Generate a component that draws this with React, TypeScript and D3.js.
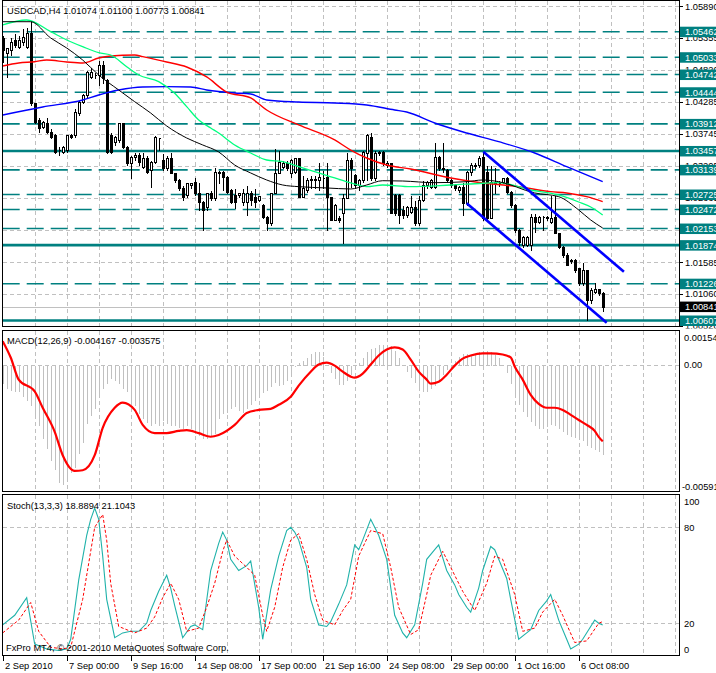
import React from "react";
import * as d3 from "d3";

const W = 716;
const H = 673;
const FONT = "'Liberation Sans', Arial, sans-serif";
const FS = 9.3;

// ---- price data (H4 bars, 2 Sep 2010 08:00 .. 7 Oct 08:00) ----
const opens = [1.0536,1.051,1.0516,1.0532,1.0521,1.0529,1.0521,1.0544,1.0426,1.0398,1.0386,1.0393,1.0378,1.0373,1.0347,1.0344,1.0347,1.0373,1.0373,1.041,1.0428,1.044,1.047,1.0473,1.0473,1.049,1.0465,1.0373,1.0361,1.0364,1.0393,1.0352,1.0326,1.0336,1.0339,1.0319,1.0334,1.0314,1.0327,1.0368,1.0331,1.0317,1.0334,1.0309,1.0297,1.0284,1.0272,1.0289,1.0294,1.0275,1.026,1.0252,1.0275,1.0267,1.031,1.031,1.0302,1.028,1.0272,1.0272,1.026,1.026,1.0275,1.0268,1.0263,1.0255,1.0235,1.0225,1.0275,1.0309,1.0319,1.0326,1.0309,1.031,1.0334,1.0268,1.028,1.0297,1.0298,1.0297,1.03,1.0302,1.0268,1.023,1.0233,1.0242,1.0267,1.0331,1.0305,1.0289,1.0297,1.0342,1.0369,1.03,1.0342,1.0344,1.0322,1.0326,1.0272,1.0272,1.0247,1.0238,1.0243,1.0252,1.0225,1.0263,1.0289,1.0285,1.0285,1.0336,1.0317,1.0314,1.0297,1.0289,1.028,1.0285,1.0258,1.031,1.0322,1.0322,1.0336,1.031,1.0233,1.0294,1.0292,1.0294,1.03,1.0277,1.0255,1.0213,1.0188,1.0188,1.0188,1.0235,1.0226,1.0235,1.0233,1.0226,1.0235,1.0208,1.0184,1.0171,1.0162,1.0162,1.0149,1.0124,1.0146,1.0095,1.0109,1.0114,1.01074];
const highs = [1.0541,1.0521,1.0537,1.0544,1.0541,1.0552,1.0554,1.0566,1.0428,1.0403,1.0398,1.0403,1.0384,1.0376,1.0354,1.0356,1.0374,1.0376,1.0418,1.0431,1.0443,1.0482,1.0487,1.0479,1.0499,1.0499,1.0468,1.0378,1.0373,1.0394,1.0393,1.0356,1.0339,1.0344,1.0344,1.0344,1.0339,1.0331,1.0373,1.0369,1.0342,1.0339,1.0344,1.031,1.03,1.0289,1.0294,1.0294,1.0302,1.0294,1.0263,1.0277,1.028,1.0319,1.0314,1.0314,1.0305,1.0284,1.0284,1.0277,1.0284,1.0289,1.028,1.0284,1.0272,1.0258,1.0238,1.0277,1.0351,1.0347,1.0331,1.0331,1.0334,1.0336,1.0336,1.0305,1.0302,1.0305,1.0305,1.0327,1.0314,1.0327,1.0268,1.0258,1.0238,1.0275,1.0344,1.0336,1.0309,1.03,1.0347,1.0376,1.0378,1.0347,1.0347,1.0347,1.0331,1.0327,1.0275,1.0275,1.0255,1.0255,1.0272,1.0263,1.0272,1.0297,1.0297,1.03,1.0361,1.0339,1.0361,1.0317,1.03,1.0292,1.0289,1.0294,1.0314,1.0327,1.0327,1.0339,1.0344,1.0322,1.0322,1.0319,1.0297,1.0302,1.0304,1.028,1.0258,1.0216,1.0205,1.0205,1.0242,1.0242,1.0238,1.0238,1.0238,1.0272,1.0272,1.021,1.0188,1.0176,1.0166,1.0166,1.0151,1.0159,1.0146,1.0117,1.0126,1.0115,1.011];
const lows = [1.0495,1.047,1.0507,1.0521,1.0519,1.0524,1.0519,1.0423,1.0393,1.0378,1.0384,1.0376,1.0368,1.0342,1.0339,1.0342,1.0344,1.0368,1.0369,1.0406,1.0426,1.0436,1.0468,1.0468,1.0457,1.046,1.0342,1.0342,1.0356,1.0361,1.0351,1.0322,1.03,1.0331,1.0322,1.0317,1.0309,1.0285,1.0326,1.0347,1.0314,1.0314,1.0309,1.0294,1.028,1.0263,1.0268,1.0284,1.0272,1.0247,1.0213,1.0247,1.0263,1.0263,1.0292,1.028,1.0275,1.0258,1.025,1.0268,1.0255,1.0238,1.0255,1.0252,1.0262,1.0233,1.0213,1.0221,1.0275,1.0309,1.0317,1.0314,1.0302,1.0309,1.0268,1.0268,1.0277,1.0284,1.0284,1.028,1.0284,1.0213,1.023,1.023,1.0226,1.0191,1.0267,1.0285,1.0284,1.028,1.0294,1.0297,1.0297,1.0297,1.0339,1.0322,1.0319,1.0242,1.0238,1.0225,1.0233,1.0235,1.0242,1.0221,1.0221,1.0262,1.0284,1.0284,1.0284,1.0314,1.031,1.0294,1.0285,1.028,1.0277,1.0238,1.0255,1.0305,1.0317,1.0319,1.023,1.023,1.0233,1.0275,1.0287,1.0292,1.0275,1.0252,1.021,1.0188,1.0184,1.0186,1.0179,1.021,1.0225,1.0213,1.023,1.0225,1.0208,1.0183,1.0168,1.0154,1.0157,1.0142,1.012,1.012,1.0062,1.009,1.0107,1.0104,1.00773];
const closes = [1.0516,1.0519,1.0529,1.0524,1.0532,1.0537,1.0544,1.0426,1.0394,1.0384,1.0394,1.0378,1.0369,1.0344,1.0348,1.0352,1.0373,1.0369,1.0411,1.0428,1.044,1.0479,1.0479,1.0474,1.049,1.0468,1.0344,1.0344,1.0369,1.0393,1.0352,1.0326,1.0336,1.0339,1.0327,1.0334,1.031,1.0327,1.0369,1.0367,1.0317,1.0334,1.0309,1.0297,1.0284,1.0268,1.0292,1.0292,1.0275,1.026,1.0247,1.0275,1.0267,1.031,1.0309,1.0302,1.0277,1.026,1.026,1.0275,1.0275,1.0275,1.0263,1.026,1.027,1.0235,1.0225,1.0275,1.0309,1.0327,1.0326,1.0317,1.0331,1.0334,1.0268,1.0284,1.0297,1.0298,1.0297,1.0302,1.03,1.0268,1.023,1.0255,1.023,1.0267,1.0331,1.0317,1.0289,1.0297,1.0344,1.0373,1.03,1.0342,1.0344,1.0326,1.0326,1.0242,1.0242,1.0238,1.0238,1.0252,1.0252,1.0225,1.0263,1.0289,1.0294,1.0297,1.0336,1.0317,1.0316,1.0297,1.0289,1.0284,1.0285,1.0258,1.031,1.0322,1.0321,1.0334,1.0233,1.0233,1.0294,1.0292,1.0292,1.03,1.0277,1.0255,1.0213,1.0193,1.0201,1.0201,1.0235,1.0226,1.0235,1.0234,1.0235,1.0233,1.0208,1.0184,1.0171,1.0154,1.0161,1.0146,1.0124,1.0146,1.0095,1.0112,1.0114,1.0107,1.00841];

// moving averages: [bar, price]
const maBlack = [[0,1.0563],[7,1.0563],[12,1.05356],[16,1.05188],[20,1.04986],[24,1.04734],[29,1.04482],[33,1.04285],[37,1.04095],[41,1.03877],[46,1.03675],[50,1.03558],[54,1.0344],[58,1.03221],[62,1.03087],[66,1.02969],[70,1.02885],[74,1.02857],[81,1.02835],[87,1.02818],[91,1.02885],[95,1.02957],[100,1.02952],[108,1.02924],[116,1.02941],[120,1.02969],[124,1.02941],[133,1.02751],[139,1.02689],[144,1.02465],[147,1.02297],[150,1.02162]];
const maGreen = [[0,1.05575],[6,1.05659],[12,1.05462],[16,1.05323],[20,1.0521],[24,1.05109],[27,1.0507],[31,1.04874],[34,1.04734],[39,1.04622],[43,1.04427],[46,1.04202],[49,1.03978],[52,1.03843],[54,1.03759],[58,1.03558],[62,1.03423],[66,1.03305],[70,1.03277],[74,1.03193],[79,1.03087],[83,1.03003],[87,1.02919],[91,1.02857],[95,1.02885],[102,1.02857],[112,1.02885],[120,1.02914],[124,1.02924],[132,1.02801],[139,1.02717],[144,1.02599],[147,1.02515],[150,1.02381]];
const maRed = [[0,1.04886],[4,1.04936],[8,1.04958],[11,1.04986],[16,1.04953],[20,1.04936],[24,1.0502],[27,1.05054],[33,1.0507],[35,1.05042],[41,1.04953],[46,1.04869],[51,1.04701],[56,1.04448],[62,1.04348],[66,1.04146],[74,1.03894],[83,1.03642],[87,1.03473],[91,1.03339],[96,1.03221],[102,1.03154],[112,1.03003],[120,1.02919],[129,1.02857],[137,1.02773],[141,1.02751],[146,1.02689],[150,1.02604]];
const maBlue = [[0,1.04062],[10,1.04196],[20,1.04314],[24,1.04398],[29,1.04482],[35,1.04533],[41,1.04538],[47,1.04533],[51,1.04482],[58,1.04432],[62,1.04415],[66,1.04314],[74,1.0428],[83,1.04264],[91,1.0423],[98,1.04146],[101,1.04112],[108,1.03927],[116,1.03759],[124,1.03613],[133,1.03423],[141,1.03193],[150,1.02941]];

// trend channel (bar, price)
const channelUpper = [[120.15, 1.03445], [155.3, 1.01426]];
const channelLower = [[116, 1.02577], [151, 1.0057]];

// horizontal levels
const dashedLevels = [1.05462, 1.05033, 1.04742, 1.04444, 1.03912, 1.03139, 1.02725, 1.02472, 1.02153, 1.01226];
const solidLevels = [1.03457, 1.01874, 1.00607];
const bidPrice = 1.00841;
const priceTicks = [1.0589, 1.05355, 1.0482, 1.04285, 1.03745, 1.03205, 1.02665, 1.02125, 1.01585, 1.0106, 1.0052];
const priceTickLabels = ["1.05890", "1.05355", "1.04820", "1.04285", "1.03745", "1.03205", "1.02665", "1.02125", "1.01585", "1.01060", "1.00520"];

// MACD
const macdHist = [-0.00086,-0.00108,-0.00117,-0.00125,-0.00125,-0.00148,-0.00164,-0.00187,-0.00242,-0.00281,
-0.00343,-0.0039,-0.00445,-0.00484,-0.00547,-0.00554,-0.00531,-0.005,-0.00477,-0.00414,
-0.00359,-0.00273,-0.00234,-0.00203,-0.00148,-0.00109,-0.00086,-0.00062,-0.0007,-0.00086,
-0.00109,-0.00125,-0.00164,-0.00187,-0.00226,-0.0025,-0.00266,-0.00281,-0.00273,-0.00281,
-0.00258,-0.00273,-0.00281,-0.00281,-0.00289,-0.00297,-0.00281,-0.00297,-0.0032,-0.00328,
-0.00343,-0.00343,-0.00328,-0.0032,-0.0025,-0.00226,-0.00219,-0.00203,-0.00195,-0.00211,
-0.00219,-0.00203,-0.00183,-0.00164,-0.00145,-0.00127,-0.00117,-0.00098,-0.0008,-0.00094,
-0.00089,-0.0007,-0.00042,-0.00005,0.00014,0.00023,0.00033,0.00052,0.00061,0.00061,
0.00042,0.00005,-0.00033,-0.00061,-0.00089,-0.00089,-0.0007,-0.00042,-0.00014,0.00014,
0.00037,0.00061,0.00075,0.00084,0.00094,0.00098,0.00098,0.00089,0.00066,0.00037,
0,-0.00028,-0.00056,-0.0008,-0.00103,-0.00122,-0.00122,-0.00108,-0.00094,-0.00066,
-0.00042,-0.00019,0,0.00019,0.00042,0.00056,0.00056,0.00047,0.00047,0.00061,
0.0007,0.00066,0.00061,0.00047,0.00033,0.00005,-0.00033,-0.00084,-0.00141,-0.00183,
-0.00216,-0.00239,-0.00262,-0.00281,-0.00295,-0.00295,-0.00286,-0.00276,-0.00281,-0.00295,
-0.00309,-0.00323,-0.00333,-0.00337,-0.00342,-0.00351,-0.00375,-0.00384,-0.00394,-0.00403,
-0.004167];
const macdSignal = [[0,0.00109],[2,0.00033],[4,-0.0007],[8,-0.00125],[10,-0.00201],[13,-0.00313],[15,-0.00422],[18,-0.00495],[20,-0.00492],[23,-0.00422],[25,-0.00295],[28,-0.00201],[30,-0.00177],[33,-0.00211],[35,-0.00281],[38,-0.00319],[41,-0.00319],[44,-0.00309],[46,-0.00305],[49,-0.00319],[52,-0.00336],[54,-0.00328],[58,-0.00281],[61,-0.00225],[64,-0.00211],[67,-0.00206],[69,-0.00187],[72,-0.0015],[74,-0.00098],[77,-0.00033],[79,0],[81,0.00009],[83,-0.00005],[85,-0.00033],[87,-0.00056],[88,-0.00061],[90,-0.00042],[92,0],[94,0.00042],[96,0.0007],[98,0.0008],[100,0.0007],[102,0.00023],[104,-0.00033],[106,-0.0007],[107,-0.00089],[109,-0.0008],[111,-0.00047],[113,-0.00005],[115,0.00028],[117,0.00042],[120,0.00052],[122,0.00052],[125,0.00047],[127,0.00033],[128,-0.00009],[130,-0.0007],[132,-0.00141],[134,-0.00183],[136,-0.00201],[138,-0.00201],[140,-0.00211],[142,-0.00234],[144,-0.00258],[146,-0.00281],[148,-0.00309],[149,-0.00337],[150,-0.003575]];

// Stochastic
const stochMain = [[0,19],[3,25],[6,36],[8,7],[10,5],[11,4],[14,3],[16,4],[17,10],[19,47],[21,75],[22,85],[23,92],[24,85],[25,62],[26,35],[28,11],[30,14],[32,15],[34,15],[36,20],[37,28],[39,40],[41,50],[42,42],[43,31],[45,11],[47,18],[48,19],[50,16],[52,53],[54,70],[55,77],[56,72],[57,60],[59,53],[61,56],[62,59],[64,30],[65,10],[67,41],[69,62],[71,78],[72,80],[73,77],[74,72],[76,55],[77,35],[79,19],[81,18],[82,21],[84,32],[86,44],[88,69],[89,66],[90,72],[92,85],[94,75],[96,60],[98,25],[100,14],[101,11],[103,19],[105,45],[106,60],[108,66],[109,69],[111,53],[113,44],[114,38],[116,30],[117,27],[119,42],[120,53],[122,68],[123,66],[124,60],[126,48],[127,35],[129,10],[131,14],[132,16],[134,28],[136,34],[137,38],[138,30],[139,22],[141,10],[142,4],[144,7],[145,10],[147,18],[148,22],[149,20],[150,18.89]];
const stochSignal = [[0,14],[4,22],[7,33],[9,15],[12,5],[15,4],[17,5],[20,35],[22,65],[23,80],[25,88],[26,72],[27,45],[29,18],[33,14],[36,17],[38,24],[40,36],[42,45],[44,35],[46,15],[49,17],[51,30],[53,45],[55,65],[56,72],[58,62],[61,55],[63,50],[65,25],[66,15],[68,30],[70,55],[72,72],[74,76],[76,60],[78,38],[80,22],[83,19],[85,28],[87,35],[89,62],[92,78],[95,76],[97,55],[99,30],[102,13],[104,16],[106,38],[107,50],[110,65],[112,55],[115,40],[118,28],[121,45],[123,62],[125,60],[128,38],[130,15],[133,17],[135,27],[138,35],[140,25],[143,8],[146,9],[149,20],[150,21.1]];

const timeLabels = ["2 Sep 2010", "7 Sep 00:00", "9 Sep 16:00", "14 Sep 08:00", "17 Sep 00:00", "21 Sep 16:00", "24 Sep 08:00", "29 Sep 00:00", "1 Oct 16:00", "6 Oct 08:00"];
const timeLabelBars = [0, 16, 32, 48, 64, 80, 96, 112, 128, 144];

const TEAL = "#008080";
const GRID = "#c0c0c0";

export default function App() {
  const x = d3.scaleLinear().domain([0, 169]).range([2.7, 678.7]);
  const yP = d3.scaleLinear().domain([1.00607, 1.05462]).range([320.5, 31.7]);
  const yM = d3.scaleLinear().domain([-0.00591, 0.00154]).range([491.5, 331.5]);
  const yS = d3.scaleLinear().domain([0, 100]).range([655.3, 495.3]);
  const cx = (i: number) => Math.round(x(i)) + 0.5;
  const px = (v: number) => Math.round(v) + 0.5;

  const PL = 2.5, PR = 679.5;
  const panes = [
    { top: 0.5, bottom: 326.5 },
    { top: 330.5, bottom: 491.5 },
    { top: 494.5, bottom: 655.5 },
  ];
  const gridBars = d3.range(8, 170, 8);

  const lineP = d3.line<number[]>().x((d) => x(d[0])).y((d) => yP(d[1])).curve(d3.curveMonotoneX);
  const lineM = d3.line<number[]>().x((d) => x(d[0])).y((d) => yM(d[1])).curve(d3.curveMonotoneX);
  const lineS = d3.line<number[]>().x((d) => x(d[0])).y((d) => yS(d[1]));
  const lineStraight = d3.line<number[]>().x((d) => x(d[0])).y((d) => yP(d[1]));

  const n = closes.length;
  const candles = d3.range(n).map((i) => {
    const o = opens[i], c = closes[i], h = highs[i], l = lows[i];
    const bull = c >= o;
    const top = px(yP(Math.max(o, c)));
    const bot = px(yP(Math.min(o, c)));
    const xc = cx(i);
    return (
      <g key={i}>
        <line x1={xc} x2={xc} y1={px(yP(h))} y2={px(yP(l))} stroke="#000" strokeWidth={1} />
        <path d={`M${xc - 1},${top}H${xc + 1}V${bot}H${xc - 1}Z`} fill={bull ? "#fff" : "#000"} stroke="#000" strokeWidth={1} />
      </g>
    );
  });

  const vGrid = (top: number, bottom: number, k: string) =>
    gridBars.map((b) => (
      <line key={k + b} x1={cx(b)} x2={cx(b)} y1={top} y2={bottom} stroke={GRID} strokeDasharray="4,3" />
    ));

  const textProps = { fontFamily: FONT, fontSize: FS, fill: "#000" };

  return (
    <svg width={W} height={H} viewBox={`0 0 ${W} ${H}`} style={{ position: "fixed", left: 0, top: 0, background: "#fff" }}>
      <defs>
        <clipPath id="mainClip"><rect x={PL} y={panes[0].top} width={PR - PL} height={panes[0].bottom - panes[0].top} /></clipPath>
        <clipPath id="mainAxisClip"><rect x={PR} y={0} width={W - PR} height={328.5} /></clipPath>
      </defs>
      <rect width={W} height={H} fill="#fff" />

      {/* ---------- main pane ---------- */}
      <g clipPath="url(#mainClip)" shapeRendering="crispEdges">
        {vGrid(panes[0].top, panes[0].bottom, "m")}
        {priceTicks.map((t, k) => (
          <line key={"hg" + k} x1={PL} x2={PR} y1={px(yP(t))} y2={px(yP(t))} stroke={GRID} strokeDasharray="4,3" />
        ))}
        <line x1={PL} x2={PR} y1={px(yP(bidPrice))} y2={px(yP(bidPrice))} stroke={GRID} />
      </g>
      <g clipPath="url(#mainClip)">
        {dashedLevels.map((lv, k) => (
          <line key={"dl" + k} x1={2.7} x2={PR} y1={yP(lv)} y2={yP(lv)} stroke={TEAL} strokeWidth={1.6} strokeDasharray="17,7" />
        ))}
        {solidLevels.map((lv, k) => (
          <line key={"sl" + k} x1={PL} x2={PR} y1={yP(lv)} y2={yP(lv)} stroke={TEAL} strokeWidth={2.6} />
        ))}
      </g>
      <g clipPath="url(#mainClip)" shapeRendering="crispEdges">{candles}</g>
      <g clipPath="url(#mainClip)" fill="none">
        <path d={lineP(maBlue) || ""} stroke="#0000ff" strokeWidth={1.4} />
        <path d={lineP(maRed) || ""} stroke="#ff0000" strokeWidth={1.4} />
        <path d={lineP(maGreen) || ""} stroke="#00ff7f" strokeWidth={1.3} />
        <path d={lineP(maBlack) || ""} stroke="#000" strokeWidth={1} />
        <path d={lineStraight(channelUpper) || ""} stroke="#0000ff" strokeWidth={2.6} />
        <path d={lineStraight(channelLower) || ""} stroke="#0000ff" strokeWidth={2.6} />
      </g>
      <text x={7} y={14} {...textProps}>{"USDCAD,H4  1.01074 1.01100 1.00773 1.00841"}</text>

      {/* main price axis */}
      <g clipPath="url(#mainAxisClip)">
        {priceTicks.map((t, k) => (
          <g key={"pt" + k}>
            <line x1={PR} x2={683} y1={px(yP(t))} y2={px(yP(t))} stroke="#000" shapeRendering="crispEdges" />
            <text x={685} y={yP(t) + 3.3} {...textProps}>{priceTickLabels[k]}</text>
          </g>
        ))}
        {[...dashedLevels, ...solidLevels].map((lv, k) => (
          <g key={"lb" + k}>
            <rect x={680} y={yP(lv) - 5} width={36} height={10.5} fill={TEAL} />
            <text x={685} y={yP(lv) + 3.4} {...textProps} fill="#fff">{lv.toFixed(5)}</text>
          </g>
        ))}
        <rect x={680} y={yP(bidPrice) - 5} width={36} height={10.5} fill="#000" />
        <text x={685} y={yP(bidPrice) + 3.4} {...textProps} fill="#fff">{bidPrice.toFixed(5)}</text>
      </g>

      {/* ---------- MACD pane ---------- */}
      <g shapeRendering="crispEdges">
        {vGrid(panes[1].top, panes[1].bottom, "a")}
        <line x1={PL} x2={PR} y1={px(yM(0))} y2={px(yM(0))} stroke={GRID} strokeDasharray="4,3" />
        {macdHist.map((v, i) => (
          <line key={"h" + i} x1={cx(i)} x2={cx(i)} y1={px(yM(0))} y2={px(yM(v))} stroke={GRID} />
        ))}
      </g>
      <path d={lineM(macdSignal) || ""} fill="none" stroke="#ff0000" strokeWidth={2.2} />
      <text x={7} y={344} {...textProps}>{"MACD(12,26,9) -0.004167 -0.003575"}</text>
      <text x={684} y={340.5} {...textProps}>0.00154</text>
      <text x={684} y={yM(0) + 3.3} {...textProps}>0.00</text>
      <text x={682} y={489.5} {...textProps}>-0.00591</text>

      {/* ---------- Stochastic pane ---------- */}
      <g shapeRendering="crispEdges">
        {vGrid(panes[2].top, panes[2].bottom, "s")}
        {[80, 20].map((v) => (
          <line key={"sg" + v} x1={PL} x2={PR} y1={px(yS(v))} y2={px(yS(v))} stroke={GRID} strokeDasharray="4,3" />
        ))}
      </g>
      <path d={lineS(stochMain) || ""} fill="none" stroke="#20b2aa" strokeWidth={1.1} />
      <path d={lineS(stochSignal) || ""} fill="none" stroke="#ff0000" strokeWidth={1} strokeDasharray="3,2" />
      <text x={7} y={508.5} {...textProps}>{"Stoch(13,3,3) 18.8894 21.1043"}</text>
      <text x={684} y={505} {...textProps}>100</text>
      <text x={684} y={yS(80) + 3.3} {...textProps}>80</text>
      <text x={684} y={yS(20) + 3.3} {...textProps}>20</text>
      <text x={684} y={652.5} {...textProps}>0</text>
      <text x={6} y={651} {...textProps}>{"FxPro MT4, © 2001-2010 MetaQuotes Software Corp."}</text>

      {/* pane frames */}
      <g fill="none" stroke="#000" shapeRendering="crispEdges">
        {panes.map((p, k) => (
          <rect key={"f" + k} x={PL} y={p.top} width={PR - PL} height={p.bottom - p.top} />
        ))}
      </g>

      {/* time axis */}
      <g shapeRendering="crispEdges">
        {timeLabelBars.map((b, k) => (
          <g key={"tl" + k}>
            <line x1={cx(b)} x2={cx(b)} y1={656} y2={661} stroke="#000" />
            <text x={cx(b) + 1.5} y={669} {...textProps}>{timeLabels[k]}</text>
          </g>
        ))}
      </g>
    </svg>
  );
}
